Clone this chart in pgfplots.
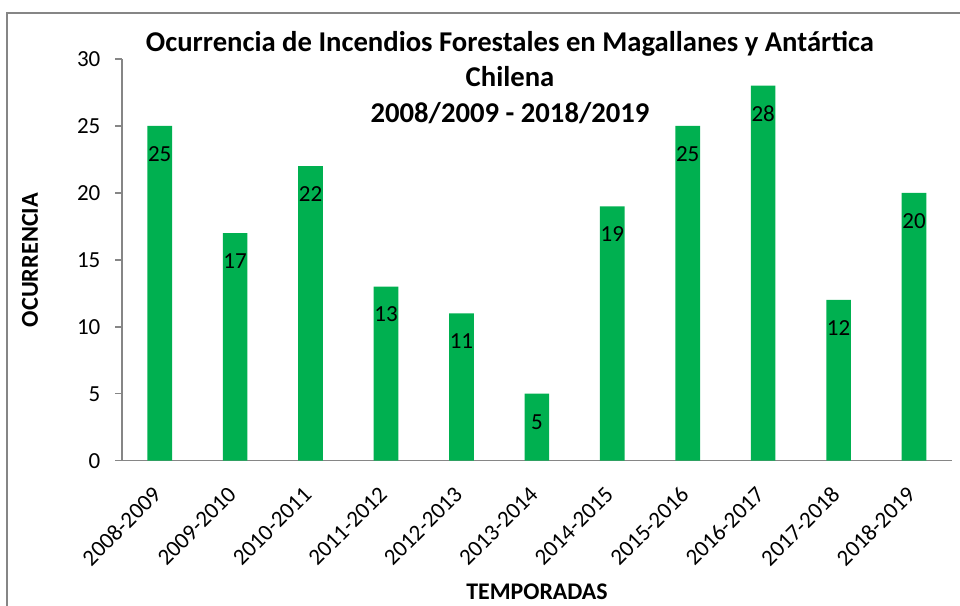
\documentclass[border=0pt]{standalone}
\usepackage{fontspec}
\setmainfont{Carlito}
\usepackage{pgfplots}
\pgfplotsset{compat=1.18}
\definecolor{barg}{HTML}{00B050}
\definecolor{axg}{HTML}{868686}
\begin{document}
\fontsize{17.25pt}{20pt}\selectfont
\begin{tikzpicture}[x=0.75pt,y=0.75pt]
\useasboundingbox (0,0) rectangle (960,606);
\draw[axg, line width=1.1pt] (7,-10) -- (7,593) -- (970,593);
\begin{axis}[
  at={(91.5pt,108.98pt)}, anchor=south west,
  scale only axis, width=622.3pt, height=301.3pt,
  ybar, bar width=18.5pt,
  xmin=-0.5, xmax=10.5, ymin=0, ymax=30,
  enlargelimits=false, clip=false,
  axis x line*=bottom, axis y line*=left,
  axis line style={axg, line width=1.1pt, -},
  xtick={0,...,10},
  xticklabels={2008-2009,2009-2010,2010-2011,2011-2012,2012-2013,2013-2014,2014-2015,2015-2016,2016-2017,2017-2018,2018-2019},
  ytick={0,5,...,30},
  tick align=outside, major tick length=5.25pt,
  ytick style={axg, line width=1.1pt},
  xtick style={draw=none},
  /pgf/number format/assume math mode=true,
  yticklabel style={font=\fontsize{17.25pt}{20pt}\selectfont, text=black, xshift=-5pt},
  xticklabel style={font=\fontsize{17.25pt}{20pt}\selectfont, text=black, anchor=east, yshift=-13pt, xshift=2pt, rotate=45},
  nodes near coords,
  every node near coord/.append style={font=\fontsize{17.25pt}{20pt}\selectfont, text=black, anchor=center, yshift=-21pt},
]
\addplot[fill=barg, draw=none] coordinates {(0,25) (1,17) (2,22) (3,13) (4,11) (5,5) (6,19) (7,25) (8,28) (9,12) (10,20)};
\end{axis}
\node[font=\fontsize{21.5pt}{24pt}\selectfont\bfseries, anchor=base] at (510,606-52) {Ocurrencia de Incendios Forestales en Magallanes y Antártica};
\node[font=\fontsize{21.5pt}{24pt}\selectfont\bfseries, anchor=base] at (510,606-87) {Chilena};
\node[font=\fontsize{21.5pt}{24pt}\selectfont\bfseries, anchor=base] at (510,606-123) {2008/2009 - 2018/2019};
\node[font=\fontsize{18.2pt}{20pt}\selectfont\bfseries, rotate=90] at (30,606-260) {OCURRENCIA};
\node[font=\fontsize{17.9pt}{20pt}\selectfont\bfseries] at (537,606-592) {TEMPORADAS};
\end{tikzpicture}
\end{document}
